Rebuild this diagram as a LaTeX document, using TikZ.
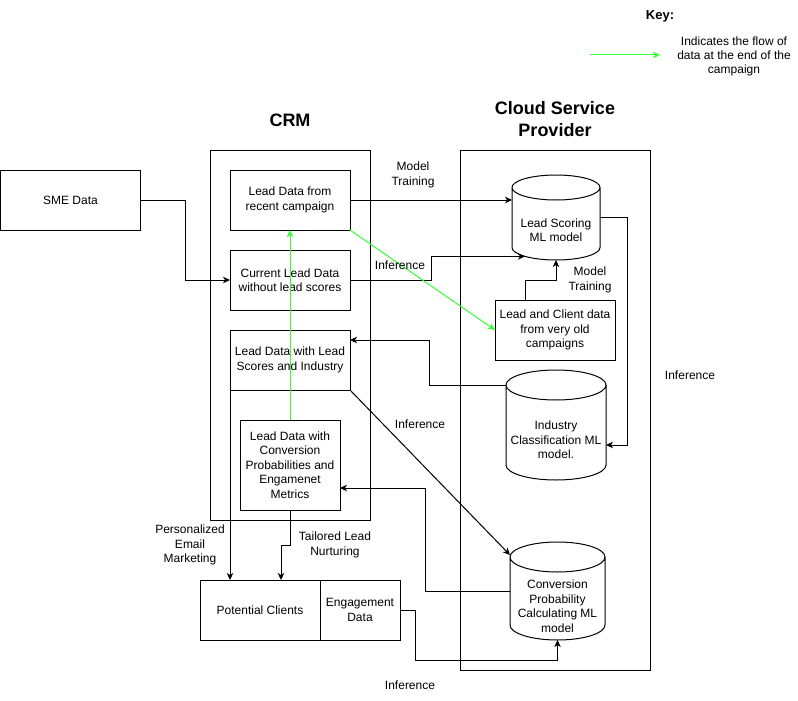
\documentclass[tikz,border=0pt]{standalone}
\usepackage{fontspec}
\setmainfont{Liberation Sans}
\usetikzlibrary{arrows.meta,calc}
\definecolor{keygreen}{RGB}{51,255,51}
\tikzset{
  box/.style={draw, line width=1pt, inner sep=0pt, outer sep=0pt, align=center, font=\fontsize{12}{14.5}\selectfont},
  frame/.style={draw, line width=1pt, inner sep=0pt, outer sep=0pt},
  lbl/.style={align=center, inner sep=0pt, font=\fontsize{12}{14.5}\selectfont},
  title/.style={align=center, inner sep=0pt, font=\bfseries\fontsize{18}{22}\selectfont},
  conn/.style={line width=1pt, -{Stealth[length=7pt,width=6.5pt,inset=2pt]}},
  gconn/.style={conn, draw=keygreen, line width=1pt},
  cylanchor/.style={inner sep=0pt, outer sep=0pt},
}
\newcommand\mkcyl[7]{%
  \node[cylanchor, minimum width=#4pt, minimum height=#5pt] (#1) at (#2,#3) {};
  \draw[line width=1pt] ([yshift=-#6pt]#1.north west) -- ([yshift=#6pt]#1.south west)
     arc[start angle=180, end angle=360, x radius=#4pt/2, y radius=#6pt]
     -- ([yshift=-#6pt]#1.north east)
     arc[start angle=0, end angle=360, x radius=#4pt/2, y radius=#6pt];
  \node[lbl] (#1-t) at ([yshift=-#6pt]#1.center) {#7};
}
\begin{document}
\begin{tikzpicture}[x=1pt,y=-1pt]
\useasboundingbox (0,0) rectangle (798,701);

% frames
\node[frame, minimum width=160pt, minimum height=370pt] (crm) at (290,335) {};
\node[frame, minimum width=190pt, minimum height=520pt] (csp) at (555,410) {};
\node[title] (crmt) at (290,120) {CRM};
\node[title] (cspt) at (555,119) {Cloud Service\\Provider};

% boxes
\node[box, minimum width=140pt, minimum height=60pt] (sme) at (70.5,200) {SME Data};
\node[box, minimum width=120pt, minimum height=60pt] (ldr) at (290,200) {Lead Data from\\recent campaign};
\node[box, minimum width=120pt, minimum height=60pt] (cld) at (290,280) {Current Lead Data\\without lead scores};
\node[box, minimum width=120pt, minimum height=60pt] (lls) at (290,360) {Lead Data with Lead\\Scores and Industry};
\node[box, minimum width=100pt, minimum height=90pt] (lcp) at (290,465) {Lead Data with\\Conversion\\Probabilities and\\Engamenet\\Metrics};
\node[box, minimum width=120pt, minimum height=60pt] (pc) at (260,610) {Potential Clients};
\node[box, minimum width=80pt, minimum height=60pt] (ed) at (360,610) {Engagement\\Data};
\node[box, minimum width=120pt, minimum height=60pt] (lco) at (555,330) {Lead and Client data\\from very old\\campaigns};

% cylinders
\mkcyl{lsm}{556}{217.5}{88}{85}{12.5}{Lead Scoring\\ML model}
\mkcyl{icm}{556}{425}{100}{110}{15}{Industry\\Classification ML\\model.}
\mkcyl{cpm}{557.5}{591}{95}{98}{15}{Conversion\\Probability\\Calculating ML\\model}

% connectors
\coordinate (lsmin) at (525,256.4);
\draw[conn] (sme.east) -- ++(45,0) |- (cld.west);
\draw[conn] (ldr.east) -- (ldr.east -| lsm.west);
\draw[conn] (cld.east) -- ++(81,0) |- (lsmin);
\draw[conn] ([xshift=-30pt]lco.north) -- ++(0,-20) -| (lsm.south);
\draw[conn] (lsm.east) -- ++(27,0) |- ([yshift=-20pt]icm.east);
\draw[conn] ([yshift=40pt]icm.west) -- ++(-77,0) |- ([yshift=20pt]lls.east);
\draw[conn] (lls.south east) -- ([yshift=-13pt]cpm.north west);
\draw[conn] (cpm.west) -- ++(-85,0) |- ([yshift=-23pt]lcp.east);
\draw[conn] (lcp.south) -- ++(0,35) -| ([xshift=21pt]pc.north);
\draw[conn] (lls.south west) -- ([xshift=30pt]pc.north west);
\draw[conn] (ed.east) -- ++(15,0) -- ++(0,50) -| (cpm.south);
\draw[gconn] (lcp.north) -- (ldr.south);
\draw[gconn] (ldr.south east) -- (lco.west);

% labels
\node[lbl] (mt1) at (413,175) {Model\\Training};
\node[lbl] (inf1) at (400,265) {Inference};
\node[lbl] (mt2) at (590,280) {Model\\Training};
\node[lbl] (inf2) at (690,375) {Inference};
\node[lbl] (inf3) at (420,424) {Inference};
\node[lbl] (pem) at (190,545) {Personalized\\Email\\Marketing};
\node[lbl] (tln) at (335,545) {Tailored Lead\\Nurturing};
\node[lbl] (inf4) at (410,685) {Inference};

% key
\node[lbl, font=\bfseries\fontsize{13}{15}\selectfont] (keyt) at (660,16) {Key:};
\coordinate (k1) at (590,55);
\coordinate (k2) at (660,55);
\draw[gconn] (k1) -- (k2);
\node[lbl, font=\fontsize{12}{14}\selectfont] (keyd) at (734,56) {Indicates the flow of\\data at the end of the\\campaign};
\end{tikzpicture}
\end{document}
